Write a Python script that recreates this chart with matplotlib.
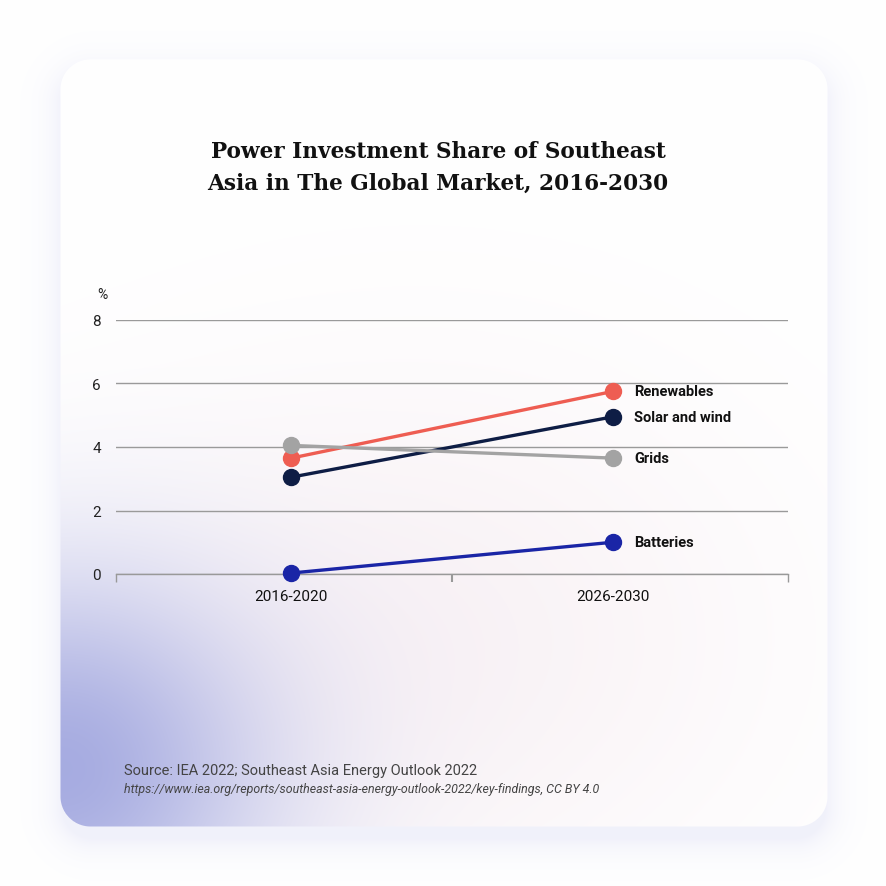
import numpy as np
import matplotlib
matplotlib.use("Agg")
import matplotlib.pyplot as plt

# ---- data ----
periods = ["2016-2020", "2026-2030"]
series_names = ["Renewables", "Solar and wind", "Grids", "Batteries"]
renewables = [3.65, 5.75]
solar_wind = [3.05, 4.95]
grids = [4.05, 3.65]
batteries = [0.03, 1.0]
y_ticks = [0, 2, 4, 6, 8]
colors = {"Renewables": "#EE5D52", "Solar and wind": "#0E1D45",
          "Grids": "#A3A3A3", "Batteries": "#1A25A6"}
series = {"Renewables": renewables, "Solar and wind": solar_wind,
          "Grids": grids, "Batteries": batteries}

W = H = 887
DPI = 100

# ---- background image (card, shadow, gradient) ----
yy, xx = np.mgrid[0:H, 0:W].astype(float)

def rbox_sd(px, py, x0, y0, x1, y1, r):
    cx, cy = (x0 + x1) / 2, (y0 + y1) / 2
    hx, hy = (x1 - x0) / 2 - r, (y1 - y0) / 2 - r
    qx = np.abs(px - cx) - hx
    qy = np.abs(py - cy) - hy
    out = np.hypot(np.maximum(qx, 0), np.maximum(qy, 0))
    ins = np.minimum(np.maximum(qx, qy), 0)
    return out + ins - r

img = np.ones((H, W, 3))
# shadow
ds = rbox_sd(xx, yy - 12, 62, 62, 825, 827, 30)
sh = np.exp(-np.maximum(ds, 0) / 16.0) * 0.22
sh_col = np.array([190, 192, 235]) / 255.0
img = img * (1 - sh[..., None]) + sh_col * sh[..., None]

# card
dc = rbox_sd(xx, yy, 60, 60, 827, 827, 30)
card_a = np.clip(0.5 - dc, 0, 1)
card = np.ones((H, W, 3))
# pink tint
dp = np.hypot((xx - 420) / 330, (yy - 640) / 260)
pk = np.exp(-dp ** 2) * 0.55
pink = np.array([244, 232, 238]) / 255.0
card = card * (1 - pk[..., None]) + pink * pk[..., None]
# blue blob at bottom-left
db = np.hypot((xx - 60) / 240, (yy - 770) / 220)
bl = np.exp(-db ** 2 * 1.3) * 0.8
blue = np.array([145, 152, 218]) / 255.0
card = card * (1 - bl[..., None]) + blue * bl[..., None]
img = img * (1 - card_a[..., None]) + card * card_a[..., None]

fig = plt.figure(figsize=(W / DPI, H / DPI), dpi=DPI)
fig.figimage(np.clip(img, 0, 1), xo=0, yo=0, origin="upper", zorder=-10)

# ---- axes ----
def fx(px):
    return px / W

def fy(py):
    return 1 - py / H

ax_left, ax_right, ax_bot, ax_top = 116, 788, 575, 321
ax = fig.add_axes([fx(ax_left), fy(ax_bot), (ax_right - ax_left) / W, (ax_bot - ax_top) / H])
ax.patch.set_alpha(0)
ax.set_ylim(0, 8)
ax.set_xlim(-0.545, 1.545)
x = np.arange(len(periods))

for name in series_names:
    ax.plot(x, series[name], color=colors[name], lw=2.4, marker="o", ms=11.5,
            clip_on=False, zorder=3, solid_capstyle="round")
    ax.text(1.067, series[name][1], name, fontsize=10.5, fontweight="bold",
            family="Roboto", va="center", ha="left", color="#111111", zorder=4)

for s in ["top", "right", "left"]:
    ax.spines[s].set_visible(False)
ax.spines["bottom"].set_color("#999999")
ax.spines["bottom"].set_linewidth(1.0)

ax.set_yticks(y_ticks)
ax.set_yticklabels([str(v) for v in y_ticks], family="Roboto", fontsize=11, color="#222222")
ax.tick_params(axis="y", length=0, pad=11)
ax.yaxis.grid(True, color="#9a9a9a", lw=1.0)
ax.set_axisbelow(True)

ax.set_xticks(x)
ax.set_xticklabels(periods, family="Roboto", fontsize=11, color="#111111")
ax.tick_params(axis="x", which="major", length=0, pad=11)
ax.set_xticks([-0.545, 0.5, 1.545], minor=True)
ax.tick_params(axis="x", which="minor", length=6, width=1.0, color="#999999")
mt = ax.xaxis.get_minor_ticks()
mt[1].tick1line.set_color("#111111")
mt[1].tick1line.set_markeredgewidth(1.5)

fig.text(fx(97), fy(295), "%", family="Roboto", fontsize=10, color="#222222",
         ha="left", va="center")

# ---- title ----
fig.text(fx(438), fy(168), "Power Investment Share of Southeast\nAsia in The Global Market, 2016-2030",
         family="DejaVu Serif", fontweight="bold", fontsize=15.6, ha="center",
         va="center", linespacing=1.62, color="#111111")

# ---- source ----
fig.text(fx(124), fy(771), "Source: IEA 2022; Southeast Asia Energy Outlook 2022",
         family="Roboto", fontsize=10.5, color="#444444", ha="left", va="center")
fig.text(fx(124), fy(790),
         "https://www.iea.org/reports/southeast-asia-energy-outlook-2022/key-findings, CC BY 4.0",
         family="Roboto", style="italic", fontsize=8.9, color="#444444", ha="left", va="center")

fig.savefig("out.png", dpi=DPI)
